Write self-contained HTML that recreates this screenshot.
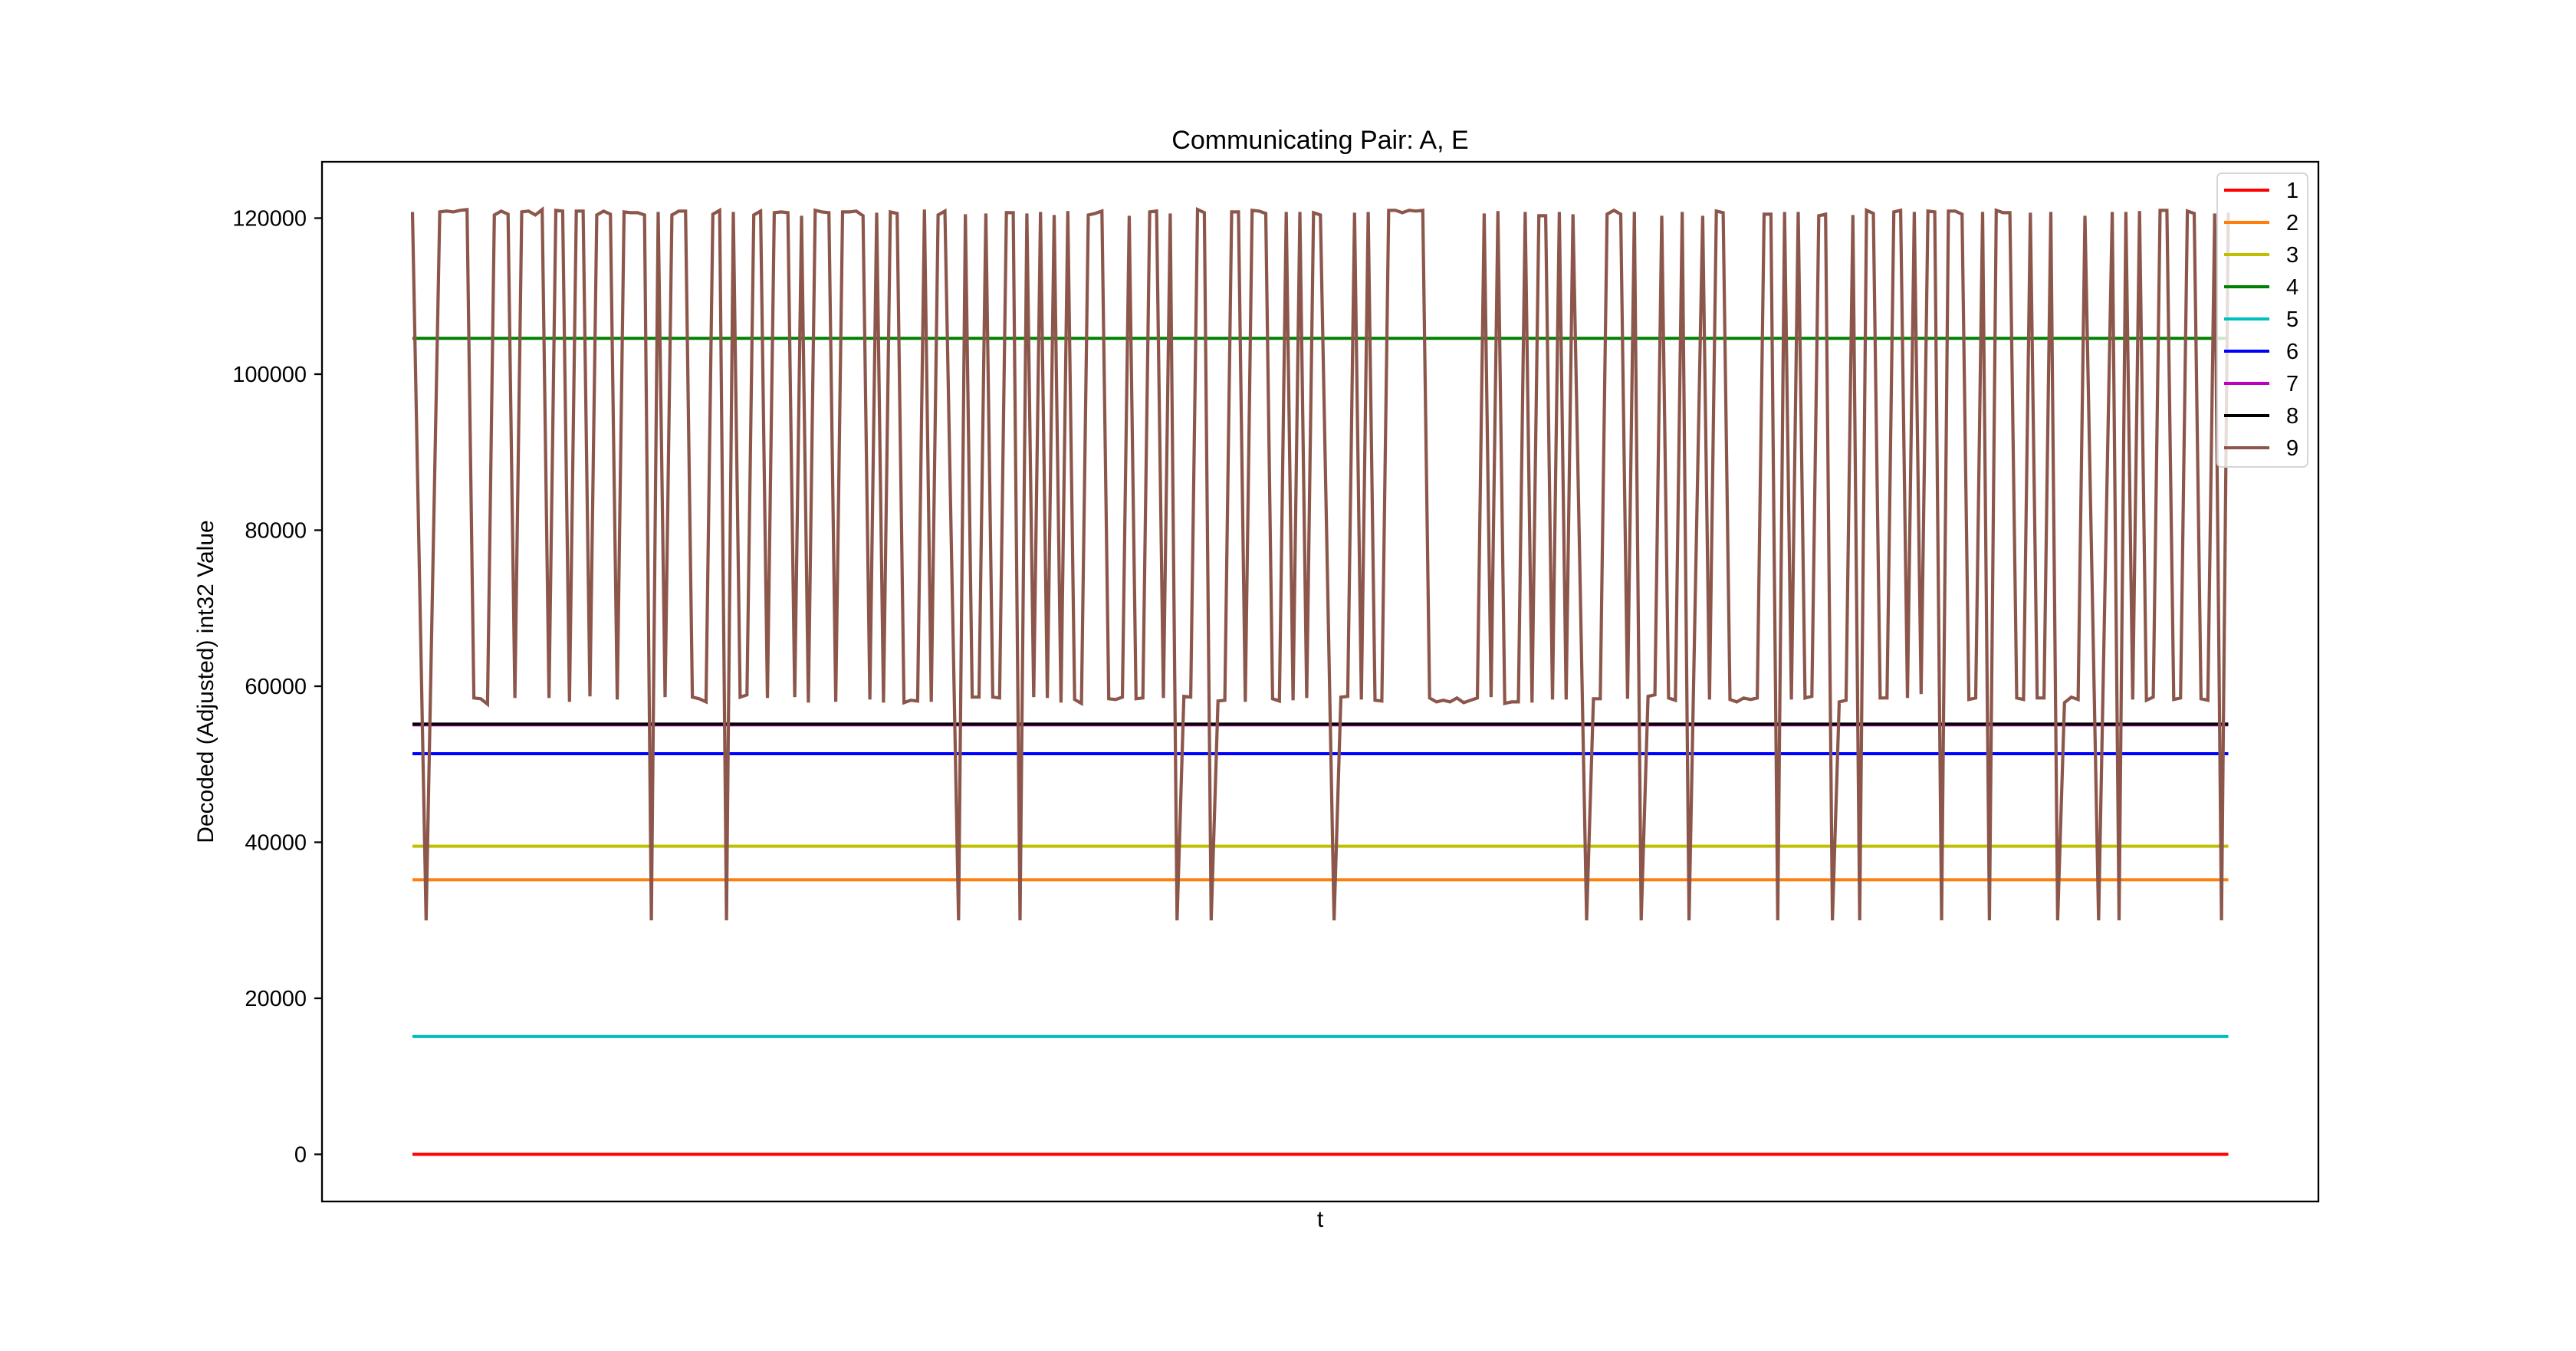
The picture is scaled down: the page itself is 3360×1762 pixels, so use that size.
<!DOCTYPE html>
<html><head><meta charset="utf-8"><style>
html,body{margin:0;padding:0;background:#fff;}
svg{display:block;font-family:"Liberation Sans","DejaVu Sans",sans-serif;}
</style></head><body>
<svg id="chart" width="3360" height="1762" viewBox="0 0 3360 1762" xmlns="http://www.w3.org/2000/svg">
<rect x="0" y="0" width="3360" height="1762" fill="#fff"/>
<text x="1722" y="194" font-size="34" text-anchor="middle">Communicating Pair: A, E</text>
<text x="1722" y="1600" font-size="30" text-anchor="middle">t</text>
<text x="0" y="0" font-size="30" text-anchor="middle" transform="translate(278,889) rotate(-90)">Decoded (Adjusted) int32 Value</text>
<g id="yticks"></g>
<g id="series"></g>
<rect x="420" y="211" width="2604" height="1356" fill="none" stroke="#000" stroke-width="2.3"/>
<g id="legend"></g>
</svg>
<script>
const yTicks = [0, 20000, 40000, 60000, 80000, 100000, 120000];
const seriesNames = ["1","2","3","4","5","6","7","8","9"];
const seriesColors = ["#ff0000","#ff7f0e","#bfbf00","#008000","#00bfbf","#0000ff","#bf00bf","#000000","#8c564b"];
const constantLevels = [0, 35200, 39500, 104600, 15100, 51350, 55050, 55150];
const s9 = [
120800,75500,30000,75500,120800,120900,120800,121000,121100,58500,58400,57700,120400,120900,120500,58500,120800,120900,120400,121100,
58500,121000,120900,58000,120900,120900,58700,120400,120900,120500,58300,120800,120700,120700,120400,30000,120800,58600,120400,120900,
120900,58600,58400,58000,120500,121000,30000,120800,58600,58900,120400,120900,58500,120700,120800,120700,58600,120300,57900,121000,
120800,120700,58000,120800,120800,120900,120300,58300,120700,57900,120800,120600,57900,58200,58100,121100,58000,120400,120900,75500,
30000,120500,58600,58600,120600,58600,58500,120700,120700,30000,120600,58600,120800,58500,120400,57900,120900,58300,57800,120400,
120600,120900,58400,58300,58600,120300,58400,58500,120800,120900,58500,120600,30000,58700,58600,121100,120700,30000,58100,58200,
120800,120800,58000,121000,120900,120600,58400,58100,120800,58200,120800,58500,120700,120400,75500,30000,58600,58700,120700,58300,
120800,58200,58100,121000,121000,120700,121000,120900,121000,58500,58000,58200,58000,58500,57900,58200,58500,120600,58600,120900,
57800,58000,58000,120800,57900,120300,120300,58300,120800,58300,120500,75500,30000,58400,58400,120500,121000,120500,58400,120800,
30000,58700,58900,120300,58500,58200,120800,30000,75500,120300,58300,120900,120700,58300,58000,58500,58300,58500,120500,120500,
30000,120800,58300,120800,58500,58700,120300,120500,30000,58000,58200,120400,30000,121000,120600,58500,58500,120800,121000,58500,
120800,59000,120900,120800,30000,120900,120900,120500,58300,58500,120800,30000,121000,120700,120700,58500,58300,120700,58500,58500,
120800,30000,57900,58600,58300,120300,75500,30000,75500,120800,30000,120800,58300,120900,58200,58600,121000,121000,58300,58500,
120900,120600,58400,58200,120600,30000,120700
];
const tCount = s9.length;
const X0 = 538, X1 = 2906.5, Y0 = 1505.5, YPER = 203.5/20000;
function xScale(i){ return X0 + (X1 - X0) * i / (tCount - 1); }
function yScale(v){ return Y0 - v * YPER; }
const NS = "http://www.w3.org/2000/svg";
const yt = document.getElementById("yticks");
yTicks.forEach(v => {
  const y = yScale(v);
  const ln = document.createElementNS(NS, "line");
  
  
  ln.setAttribute("x1", 410); ln.setAttribute("x2", 420);
  ln.setAttribute("y1", y); ln.setAttribute("y2", y);
  ln.setAttribute("stroke", "#000"); ln.setAttribute("stroke-width", "2.3");
  yt.appendChild(ln);
  const tx = document.createElementNS(NS, "text");
  
  
  tx.setAttribute("x", 400); tx.setAttribute("y", y + 10);
  tx.setAttribute("font-size", "29"); tx.setAttribute("text-anchor", "end");
  tx.textContent = String(v);
  yt.appendChild(tx);
});
const sg = document.getElementById("series");
constantLevels.forEach((v, k) => {
  const ln = document.createElementNS(NS, "line");
  
  
  ln.setAttribute("x1", xScale(0)); ln.setAttribute("x2", xScale(tCount - 1));
  ln.setAttribute("y1", yScale(v)); ln.setAttribute("y2", yScale(v));
  ln.setAttribute("stroke", seriesColors[k]); ln.setAttribute("stroke-width", "4");
  sg.appendChild(ln);
});
const p9 = document.createElementNS(NS, "polyline");


p9.setAttribute("points", s9.map((v, i) => xScale(i).toFixed(1) + "," + yScale(v).toFixed(1)).join(" "));
p9.setAttribute("fill", "none"); p9.setAttribute("stroke", seriesColors[8]);
p9.setAttribute("stroke-width", "4.2"); p9.setAttribute("stroke-linejoin", "miter");
sg.appendChild(p9);
const lg = document.getElementById("legend");
const box = document.createElementNS(NS, "rect");


box.setAttribute("x", 2892); box.setAttribute("y", 226); box.setAttribute("width", 118); box.setAttribute("height", 383);
box.setAttribute("rx", 6); box.setAttribute("fill", "#fff"); box.setAttribute("fill-opacity", "0.8");
box.setAttribute("stroke", "#d6d6d6"); box.setAttribute("stroke-width", "2");
lg.appendChild(box);
seriesNames.forEach((n, k) => {
  const y = 248 + k * 42;
  const ln = document.createElementNS(NS, "line");
  
  
  ln.setAttribute("x1", 2901); ln.setAttribute("x2", 2960); ln.setAttribute("y1", y); ln.setAttribute("y2", y);
  ln.setAttribute("stroke", seriesColors[k]); ln.setAttribute("stroke-width", "4");
  lg.appendChild(ln);
  const tx = document.createElementNS(NS, "text");
  
  
  tx.setAttribute("x", 2982); tx.setAttribute("y", y + 10); tx.setAttribute("font-size", "29");
  tx.textContent = n;
  lg.appendChild(tx);
});
</script>
</body></html>
